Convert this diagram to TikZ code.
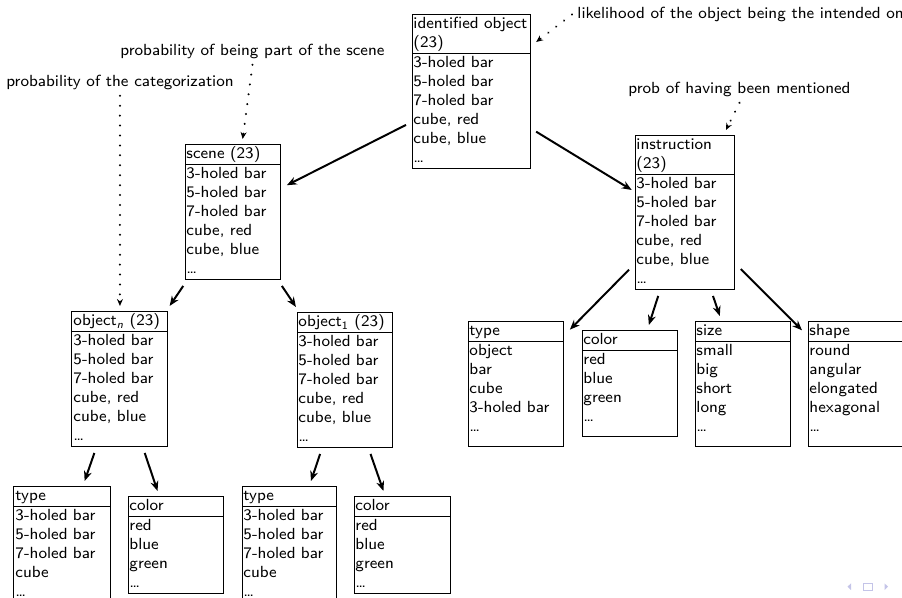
\documentclass[tikz,border=0pt]{standalone}
\usetikzlibrary{shapes.multipart,arrows.meta}
\definecolor{navcol}{RGB}{196,196,232}
\begin{document}
\begin{tikzpicture}[x=0.4037pt,y=-0.4037pt,
  box/.style={rectangle split, rectangle split parts=2, draw=black, line width=0.4pt,
     inner xsep=0.6pt, inner ysep=0pt, outer sep=2.42pt, align=left, anchor=north west,
     font=\sffamily\fontsize{6.5}{7.67}\selectfont},
  wA/.style={text width=37.5pt},
  wB/.style={text width=37.9pt},
  wC/.style={text width=37.1pt},
  wD/.style={text width=39.1pt},
  wE/.style={text width=46.5pt},
  arr/.style={-{Stealth[length=4pt,width=3.2pt]}, line width=0.8pt},
  dotarr/.style={line width=0.9pt, dash pattern=on 0.01pt off 4pt, line cap=round,
     -{Stealth[length=2.8pt,width=2.4pt]}},
  note/.style={font=\sffamily\fontsize{6.5}{7.67}\selectfont, inner sep=2pt}
]
\useasboundingbox (0,0) rectangle (902,598);
\newcommand\xtra{\rule[-5.8pt]{0pt}{1pt}}

% top box
\node[box,wE] (id) at (406,9) {\strut identified object\\\strut (23)
  \nodepart{two}\strut 3-holed bar\\\strut 5-holed bar\\\strut 7-holed bar\\\strut cube, red\\\strut cube, blue\\\strut \dots};

% scene branch
\node[box,wA] (scene) at (179,139) {\strut scene (23)
  \nodepart{two}\strut 3-holed bar\\\strut 5-holed bar\\\strut 7-holed bar\\\strut cube, red\\\strut cube, blue\\\strut \dots};
\node[box,wA] (objn) at (66,306) {\strut object\textsubscript{\itshape n} (23)
  \nodepart{two}\strut 3-holed bar\\\strut 5-holed bar\\\strut 7-holed bar\\\strut cube, red\\\strut cube, blue\\\strut \dots};
\node[box,wA] (obj1) at (291,307) {\strut object\textsubscript{1} (23)
  \nodepart{two}\strut 3-holed bar\\\strut 5-holed bar\\\strut 7-holed bar\\\strut cube, red\\\strut cube, blue\\\strut \dots};
\node[box,wB] (typeA) at (8,481) {\strut type
  \nodepart{two}\strut 3-holed bar\\\strut 5-holed bar\\\strut 7-holed bar\\\strut cube\\\strut \dots};
\node[box,wA] (colorA) at (122,491) {\strut color
  \nodepart{two}\strut red\\\strut blue\\\strut green\\\strut \dots};
\node[box,wC] (typeB) at (236,481) {\strut type
  \nodepart{two}\strut 3-holed bar\\\strut 5-holed bar\\\strut 7-holed bar\\\strut cube\\\strut \dots};
\node[box,wB] (colorB) at (348,491) {\strut color
  \nodepart{two}\strut red\\\strut blue\\\strut green\\\strut \dots};

% instruction branch
\node[box,wD] (instr) at (629,130) {\strut instruction\\\strut (23)
  \nodepart{two}\strut 3-holed bar\\\strut 5-holed bar\\\strut 7-holed bar\\\strut cube, red\\\strut cube, blue\\\strut \dots};
\node[box,wA] (rtype) at (462,316) {\strut type
  \nodepart{two}\strut object\\\strut bar\\\strut cube\\\strut 3-holed bar\\\strut \dots\xtra};
\node[box,wA] (rcolor) at (576,325) {\strut color
  \nodepart{two}\strut red\\\strut blue\\\strut green\\\strut \dots\xtra};
\node[box,wA] (rsize) at (689,316) {\strut size
  \nodepart{two}\strut small\\\strut big\\\strut short\\\strut long\\\strut \dots\xtra};
\node[box,wA] (rshape) at (802,316) {\strut shape
  \nodepart{two}\strut round\\\strut angular\\\strut elongated\\\strut hexagonal\\\strut \dots\xtra};

% annotations
\node[note,anchor=base west] (lik) at (572,18.5) {likelihood of the object being the intended one};
\node[note,anchor=base] (ps) at (252.5,56) {probability of being part of the scene};
\node[note,anchor=base] (pc) at (120,87) {probability of the categorization};
\node[note,anchor=base] (pm) at (739.5,94) {prob of having been mentioned};

% connectors
\draw[arr] (id) -- (scene);
\draw[arr] (id) -- ([shift={(2.7,-23)}]instr.west);
\draw[arr] (scene) -- (objn);
\draw[arr] (scene) -- (obj1);
\draw[arr] (objn) -- (typeA);
\draw[arr] (objn) -- (colorA);
\draw[arr] (obj1) -- (typeB);
\draw[arr] (obj1) -- (colorB);
\draw[arr] (instr) -- (rtype);
\draw[arr] (instr) -- (rcolor);
\draw[arr] (instr) -- (rsize);
\draw[arr] (instr) -- (rshape);

\draw[dotarr] (lik.west) -- (id);
\draw[dotarr] (ps.south) -- (scene);
\draw[dotarr] (pc.south) -- (objn);
\draw[dotarr] (pm.south) -- (instr);

% navigation symbols
\fill[navcol] (847.5,586.7) -- (851,583.3) -- (851,590) -- cycle;
\draw[navcol, line width=0.4pt] (863.5,583.5) rectangle (872.5,590);
\fill[navcol] (884.5,583.3) -- (884.5,590) -- (888,586.7) -- cycle;
\end{tikzpicture}
\end{document}
